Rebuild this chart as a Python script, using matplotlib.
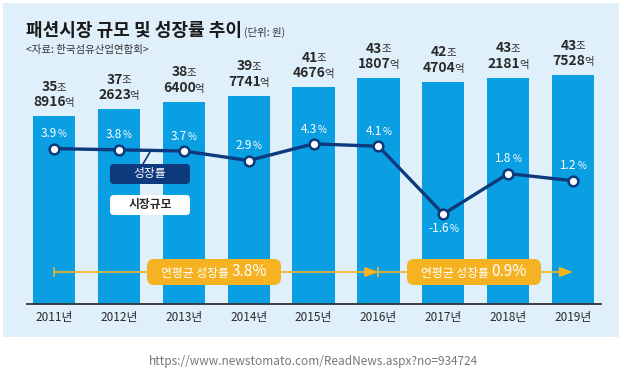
import numpy as np
import matplotlib
matplotlib.use("Agg")
import matplotlib.pyplot as plt
from matplotlib.patches import Rectangle, FancyBboxPatch
from matplotlib.offsetbox import TextArea, HPacker, AnnotationBbox, DrawingArea
from matplotlib.lines import Line2D

plt.rcParams['font.family'] = ['Noto Sans CJK KR', 'DejaVu Sans']

# data
years = ['2011년', '2012년', '2013년', '2014년', '2015년', '2016년', '2017년', '2018년', '2019년']
market_eok = [358916, 372623, 386400, 397741, 414676, 431807, 424704, 432181, 437528]  # 억원
growth = [3.9, 3.8, 3.7, 2.9, 4.3, 4.1, -1.6, 1.8, 1.2]  # %
avg_periods = [(0, 5), (5, 8)]   # 2011-2016, 2016-2019
avg_rates = [3.8, 0.9]

BAR = '#0a9fe2'
PANEL = '#dff0fa'
NAVY = '#0c3a7c'
ORANGE = '#f5b324'
DARK = '#2a2a2a'

W, H = 624, 372
fig = plt.figure(figsize=(W / 100, H / 100), dpi=100)
fig.patch.set_facecolor('white')


def fx(px):
    return px / W


def fy(py):
    return 1 - py / H


# light blue panel
fig.patches.append(Rectangle((fx(3), fy(337)), fx(616), 334 / H, transform=fig.transFigure,
                             facecolor=PANEL, edgecolor='none', zorder=-5))

ax = fig.add_axes([fx(27), fy(304), fx(574), 264 / H])
ax.patch.set_visible(False)
x = np.arange(len(years))
trillions = np.array(market_eok) / 10000
ax.bar(x, trillions, width=0.65, color=BAR, zorder=2)
ax.set_xlim(-0.416, 8.43)
ax.set_ylim(0, 50.4)
ax.set_yticks([])
ax.set_xticks(x)
ax.set_xticklabels(years, fontsize=8.5, color=DARK)
ax.tick_params(axis='x', length=0, pad=5)
for s in ['top', 'left', 'right']:
    ax.spines[s].set_visible(False)
ax.spines['bottom'].set_color('#333333')
ax.spines['bottom'].set_linewidth(1.3)


def mixed(parts, color, weight='normal', sep=0):
    boxes = [TextArea(t, textprops=dict(size=s, color=color, weight=w))
             for t, s, w in [(p[0], p[1], p[2] if len(p) > 2 else weight) for p in parts]]
    return HPacker(children=boxes, align='baseline', pad=0, sep=sep)


# value labels above bars (two lines: 조 / 억)
for i, v in enumerate(market_eok):
    jo, eok = divmod(v, 10000)
    top = mixed([(str(jo), 10, 'bold'), ('조', 7.5, 'medium')], DARK, sep=-1)
    bot = mixed([('%04d' % eok, 10, 'bold'), ('억', 7.5, 'medium')], DARK, sep=-1)
    for lab, off in [(bot, 10), (top, 21)]:
        ab = AnnotationBbox(lab, (x[i], trillions[i]), xybox=(0, off), boxcoords='offset points',
                            box_alignment=(0.5, 0.5), frameon=False, zorder=5)
        ax.add_artist(ab)

# growth rate line
ax2 = ax.twinx()
ax2.set_ylim(-9.16, 13.03)
ax2.axis('off')
ax2.plot(x, growth, color=NAVY, lw=2.4, marker='o', markersize=7,
         markerfacecolor='white', markeredgecolor=NAVY, markeredgewidth=1.8, zorder=4)
for i, g in enumerate(growth):
    lab = mixed([('%.1f' % g, 8.5), ('%', 7)], 'white', sep=0.5)
    if g >= 0:
        ab = AnnotationBbox(lab, (x[i], g), xybox=(0, 6), boxcoords='offset points',
                            box_alignment=(0.5, 0), frameon=False)
    else:
        ab = AnnotationBbox(lab, (x[i], g), xybox=(0, -6), boxcoords='offset points',
                            box_alignment=(0.5, 1), frameon=False)
    ax2.add_artist(ab)

# average growth arrows
ytr = ax.get_xaxis_transform()
y_arrow = 32 / 264
for (a, b), r in zip(avg_periods, avg_rates):
    ax.annotate('', xy=(x[b], y_arrow), xytext=(x[a], y_arrow), xycoords=ytr, textcoords=ytr,
                arrowprops=dict(arrowstyle='-|>,head_length=0.8,head_width=0.3', color=ORANGE,
                                lw=1.2, shrinkA=0, shrinkB=0), zorder=3)
    ax.plot([x[a], x[a]], [y_arrow - 0.015, y_arrow + 0.015], transform=ytr,
            color=ORANGE, lw=1.2, zorder=3)
    cx = (x[a] + x[b]) / 2 - 0.03
    lab = HPacker(children=[DrawingArea(7, 1),
                            TextArea('연평균 성장률 ', textprops=dict(size=8.5, color='white')),
                            TextArea('%.1f%%' % r, textprops=dict(size=11, color='white')),
                            DrawingArea(7, 1)],
                  align='baseline', pad=0, sep=0)
    ab = AnnotationBbox(lab, (cx, y_arrow), xycoords=ytr, box_alignment=(0.5, 0.5),
                        frameon=True, pad=0.3,
                        bboxprops=dict(boxstyle='round,pad=0.3,rounding_size=0.5',
                                       facecolor=ORANGE, edgecolor='none'), zorder=6)
    ax.add_artist(ab)

# legend boxes
fig.patches.append(FancyBboxPatch((fx(110), fy(184)), fx(80), 20 / H, transform=fig.transFigure,
                                  boxstyle='round,pad=0,rounding_size=%f' % fx(4),
                                  mutation_aspect=W / H, facecolor=NAVY, edgecolor='none', zorder=7))
fig.text(fx(150), fy(174), '성장률', color='white', fontsize=8.5, ha='center', va='center', zorder=8)
fig.patches.append(FancyBboxPatch((fx(110), fy(215)), fx(80), 20 / H, transform=fig.transFigure,
                                  boxstyle='round,pad=0,rounding_size=%f' % fx(4),
                                  mutation_aspect=W / H, facecolor='white', edgecolor='none', zorder=7))
fig.text(fx(150), fy(205), '시장규모', color=DARK, fontsize=8.5, weight='bold',
         ha='center', va='center', zorder=8)
fig.lines.append(Line2D([fx(143), fx(150)], [fy(164), fy(152)], transform=fig.transFigure,
                        color=NAVY, lw=1.2, zorder=7))

# titles
fig.text(fx(26), fy(30), '패션시장 규모 및 성장률 추이', fontsize=13, weight='bold',
         color='#1a1a1a', va='center', ha='left')
fig.text(fx(244), fy(32), '(단위: 원)', fontsize=7.5, color='#333333', va='center', ha='left')
fig.text(fx(26), fy(50), '<자료: 한국섬유산업연합회>', fontsize=7.5, color='#333333',
         va='center', ha='left')

fig.text(fx(313), fy(362), 'https://www.newstomato.com/ReadNews.aspx?no=934724',
         fontsize=8.5, color='#777777', ha='center', va='center')

fig.savefig('out.png', dpi=100, facecolor='white')
